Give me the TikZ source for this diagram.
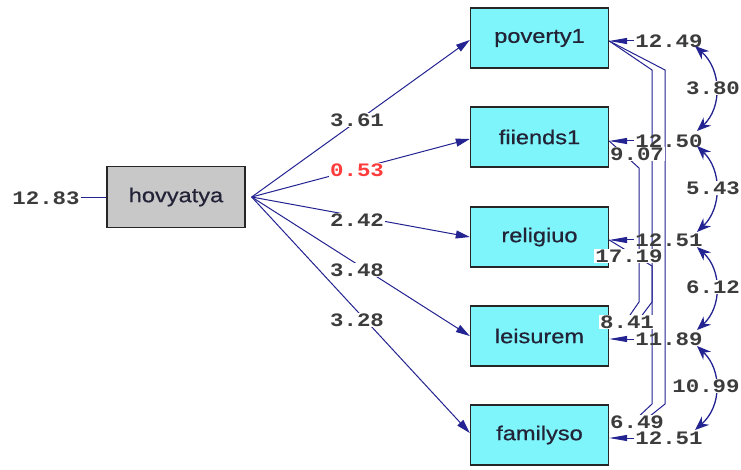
\documentclass[tikz,border=0pt]{standalone}
\usepackage{fontspec}
\usetikzlibrary{arrows.meta}
\newfontfamily\boxfont[FakeStretch=1.18,FakeBold=0.7]{Liberation Sans}
\newfontfamily\numfont[FakeStretch=1.18]{Liberation Mono}
\definecolor{lnavy}{RGB}{35,35,145}
\definecolor{cyanbox}{RGB}{125,245,250}
\definecolor{graybox}{RGB}{200,200,200}
\definecolor{textdark}{RGB}{35,35,55}
\definecolor{numgray}{RGB}{60,60,60}
\definecolor{numred}{RGB}{255,60,60}
\tikzset{
  obsbox/.style={draw=black!85, line width=1.4pt, fill=cyanbox, minimum width=138pt, minimum height=60pt, inner sep=0pt, font=\boxfont\fontsize{20}{24}\selectfont, text=textdark},
  latbox/.style={obsbox, fill=graybox, minimum height=61pt},
  numlab/.style={font=\numfont\bfseries\fontsize{19}{22}\selectfont, text=numgray, inner sep=1pt},
  wlab/.style={numlab, fill=white},
  patharrow/.style={draw=lnavy, line width=1pt, -{Triangle[length=14pt,width=8pt]}},
  errarrow/.style={draw=lnavy, line width=1pt, -{Triangle[length=18pt,width=6pt]}},
  covline/.style={draw=lnavy, line width=1pt},
  covarc/.style={draw=lnavy, line width=1.3pt, {Stealth[length=14pt,width=11pt]}-{Stealth[length=14pt,width=11pt]}}
}
\begin{document}
\begin{tikzpicture}[x=1pt,y=-1pt]
\useasboundingbox (0,0) rectangle (741,470);
\fill[white] (0,0) rectangle (741,470);

% boxes
\node[latbox] (hov) at (176,197) {hovyatya};
\node[obsbox] (pov) at (539.5,38) {poverty1};
\node[obsbox] (fri) at (539.5,137) {fiiends1};
\node[obsbox] (rel) at (539.5,237) {religiuo};
\node[obsbox] (lei) at (539.5,336) {leisurem};
\node[obsbox] (fam) at (539.5,435) {familyso};

% left error
\node[numlab] (e0) at (46,198) {12.83};
\draw[covline] (e0.east) -- (hov.west |- e0.east);

% paths
\coordinate (src) at ([xshift=6pt]hov.east);
\draw[patharrow] (src) -- ([yshift=-2pt]pov.west);
\draw[patharrow] (src) -- ([yshift=-2pt]fri.west);
\draw[patharrow] (src) -- (rel.west);
\draw[patharrow] (src) -- (lei.west);
\draw[patharrow] (src) -- ([yshift=2pt]fam.west);
\node[wlab] (p1) at (357,120) {3.61};
\node[wlab, text=numred] (p2) at (357,170) {0.53};
\node[wlab] (p3) at (357,220) {2.42};
\node[wlab] (p4) at (357,270) {3.48};
\node[wlab] (p5) at (357,320) {3.28};

% error covariance lines
\coordinate (pe) at ([yshift=-3pt]pov.east);
\coordinate (fe) at ([yshift=-4pt]fri.east);
\coordinate (re) at ([yshift=-3pt]rel.east);
\coordinate (c907) at (637,154);
\coordinate (c1719) at (629,256);
\coordinate (c841) at (627,322);
\coordinate (c649) at (637,422);
\draw[covline] (pe) -- (665,70) -- (665,404) -- (645,420);
\draw[covline] (pe) -- (652,70) -- (652,302) -- (640,318);
\draw[covline] (fe) -- (639,168) -- (639,302) -- (628,318);
\draw[covline] (re) -- (652,266) -- (652,404) -- (635,420);
\node[wlab] (l907) at (c907) {9.07};
\node[wlab] (l1719) at (c1719) {17.19};
\node[wlab] (l841) at (c841) {8.41};
\node[wlab] (l649) at (c649) {6.49};

% error variances
\node[numlab] (ep) at (669,41) {12.49};
\node[numlab] (ef) at (669,141) {12.50};
\node[numlab] (er) at (669,240) {12.51};
\node[numlab] (el) at (669,339) {11.89};
\node[numlab] (ea) at (669,438) {12.51};
\draw[errarrow] (ep.west) -- (ep.west -| pov.east);
\draw[errarrow] (ef.west) -- (ef.west -| fri.east);
\draw[errarrow] (er.west) -- (er.west -| rel.east);
\draw[errarrow] (el.west) -- (el.west -| lei.east);
\draw[errarrow] (ea.west) -- (ea.west -| fam.east);

% covariance arcs
\coordinate (a1s) at (695,46);  \coordinate (a1e) at (697,131);
\coordinate (a2s) at (697,146); \coordinate (a2e) at (697,232);
\coordinate (a3s) at (697,247); \coordinate (a3e) at (697,330);
\coordinate (a4s) at (697,346); \coordinate (a4e) at (695,430);
\draw[covarc] (a1s) .. controls (722,70) and (722,108) .. (a1e);
\draw[covarc] (a2s) .. controls (722,170) and (722,208) .. (a2e);
\draw[covarc] (a3s) .. controls (722,270) and (722,307) .. (a3e);
\draw[covarc] (a4s) .. controls (722,370) and (722,406) .. (a4e);
\node[wlab] (v1) at (713,88) {3.80};
\node[wlab] (v2) at (713,188) {5.43};
\node[wlab] (v3) at (713,287) {6.12};
\node[wlab] (v4) at (706,386) {10.99};
\end{tikzpicture}
\end{document}
